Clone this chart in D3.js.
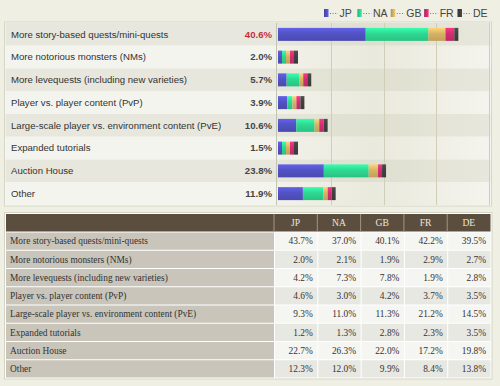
<!DOCTYPE html>
<html>
<head>
  <script src="https://d3js.org/d3.v7.min.js"></script>
  <style>
    body { margin: 0; background-color: #efefe4; }
    svg { display: block; }
    .lbl { font-family: "Liberation Sans", Arial, sans-serif; font-size: 9.6px; fill: #333; }
    .val { font-family: "Liberation Sans", Arial, sans-serif; font-size: 9.6px; font-weight: bold; fill: #444; }
    .leg { font-family: "Liberation Sans", Arial, sans-serif; font-size: 10.5px; fill: #444; }
    .tbl { font-family: "Liberation Serif", "Times New Roman", serif; font-size: 9.4px; fill: #333; }
    .hdr { font-family: "Liberation Serif", "Times New Roman", serif; font-size: 9.6px; fill: #eee6d6; }
    .grid { stroke: #cfcfb8; stroke-width: 1px; }
  </style>
</head>
<body>
<svg width="500" height="386"></svg>
<script>
var categories = [
  "More story-based quests/mini-quests",
  "More notorious monsters (NMs)",
  "More levequests (including new varieties)",
  "Player vs. player content (PvP)",
  "Large-scale player vs. environment content (PvE)",
  "Expanded tutorials",
  "Auction House",
  "Other"
];
var regions = ["JP", "NA", "GB", "FR", "DE"];
var overall = [40.6, 2.0, 5.7, 3.9, 10.6, 1.5, 23.8, 11.9];
var jp = [43.7, 2.0, 4.2, 4.6, 9.3, 1.2, 22.7, 12.3];
var na = [37.0, 2.1, 7.3, 3.0, 11.0, 1.3, 26.3, 12.0];
var gb = [40.1, 1.9, 7.8, 4.2, 11.3, 2.8, 22.0, 9.9];
var fr = [42.2, 2.9, 1.9, 3.7, 21.2, 2.3, 17.2, 8.4];
var de = [39.5, 2.7, 2.8, 3.5, 14.5, 3.5, 19.8, 13.8];
// share of respondents per region
var regionShare = [0.45, 0.38, 0.095, 0.047, 0.023];
var colors = ["#5252c4", "#2ed892", "#d6b264", "#d22e72", "#404040"];

var byRegion = [jp, na, gb, fr, de];

var svg = d3.select("svg");
var defs = svg.append("defs");

colors.forEach(function(c, i) {
  var g = defs.append("linearGradient").attr("id", "bg" + i)
      .attr("x1", 0).attr("y1", 0).attr("x2", 0).attr("y2", 1);
  g.append("stop").attr("offset", "0%").attr("stop-color", d3.color(c).brighter(0.5));
  g.append("stop").attr("offset", "45%").attr("stop-color", c);
  g.append("stop").attr("offset", "100%").attr("stop-color", d3.color(c).darker(0.3));
  var h = defs.append("linearGradient").attr("id", "lg" + i)
      .attr("x1", 0).attr("y1", 0).attr("x2", 1).attr("y2", 0);
  h.append("stop").attr("offset", "0%").attr("stop-color", d3.color(c).darker(0.6));
  h.append("stop").attr("offset", "100%").attr("stop-color", d3.color(c).brighter(0.4));
});
var shade = defs.append("linearGradient").attr("id", "shade")
    .attr("x1", 0).attr("y1", 0).attr("x2", 1).attr("y2", 0);
shade.append("stop").attr("offset", "0%").attr("stop-color", "#c8c8a8").attr("stop-opacity", 0.05);
shade.append("stop").attr("offset", "45%").attr("stop-color", "#c8c8a8").attr("stop-opacity", 0.25);
shade.append("stop").attr("offset", "100%").attr("stop-color", "#c8c8a8").attr("stop-opacity", 0.0);

// ---------- top chart ----------
var box = {left: 5.5, right: 490.5, top: 23, bottom: 205};
var plotLeft = 276.5;

var y = d3.scaleBand().domain(d3.range(categories.length))
    .range([box.top, box.bottom]);
var x = d3.scaleLinear().domain([0, 47.5]).range([278, 489]);

var chart = svg.append("g");
chart.append("rect")
    .attr("x", box.left - 1).attr("y", box.top - 1)
    .attr("width", box.right - box.left + 2).attr("height", box.bottom - box.top + 2)
    .attr("fill", "#fbfbf6").attr("stroke", "#d6d6c6");

chart.selectAll(".row").data(categories).enter().append("rect")
    .attr("x", box.left).attr("y", function(d, i) { return y(i); })
    .attr("width", box.right - box.left).attr("height", y.bandwidth())
    .attr("fill", function(d, i) { return i % 2 ? "#f4f4ee" : "#e7e7dd"; });

chart.append("rect")
    .attr("x", plotLeft).attr("y", box.top)
    .attr("width", box.right - plotLeft).attr("height", box.bottom - box.top)
    .attr("fill", "url(#shade)");

var gridVals = d3.range(1, 5).map(function(k) { return x.domain()[1] * k / 4; });
chart.selectAll(".grid").data(gridVals).enter().append("line")
    .attr("class", "grid")
    .attr("x1", function(d) { return Math.round(x(d)) + 0.5; })
    .attr("x2", function(d) { return Math.round(x(d)) + 0.5; })
    .attr("y1", box.top).attr("y2", box.bottom);

chart.append("line")
    .attr("x1", plotLeft).attr("x2", plotLeft)
    .attr("y1", box.top).attr("y2", box.bottom)
    .attr("stroke", "#c4c4b2");

chart.selectAll(".lbl").data(categories).enter().append("text")
    .attr("class", "lbl")
    .attr("x", 11).attr("y", function(d, i) { return y(i) + y.bandwidth() / 2; })
    .attr("dy", "0.35em")
    .text(function(d) { return d; });

chart.selectAll(".val").data(overall).enter().append("text")
    .attr("class", "val")
    .attr("x", 272).attr("y", function(d, i) { return y(i) + y.bandwidth() / 2; })
    .attr("dy", "0.35em")
    .attr("text-anchor", "end")
    .style("fill", function(d, i) { return i === 0 ? "#c4303c" : null; })
    .text(function(d) { return d.toFixed(1) + "%"; });

// stacked segments: each region's weighted contribution, scaled to the overall figure
var minW = 4;
categories.forEach(function(c, i) {
  var contrib = byRegion.map(function(arr, r) { return arr[i] * regionShare[r]; });
  var sum = d3.sum(contrib);
  var x0 = x(0);
  var barH = 13;
  var by = y(i) + (y.bandwidth() - barH) / 2;
  contrib.forEach(function(v, r) {
    var w = Math.max(minW, x(overall[i] * v / sum) - x(0));
    chart.append("rect")
        .attr("x", x0).attr("y", by)
        .attr("width", w).attr("height", barH)
        .attr("fill", "url(#bg" + r + ")");
    x0 += w;
  });
});

// legend
var legX = d3.scalePoint().domain(regions).range([324, 457.5]);
var leg = svg.append("g");
regions.forEach(function(r, i) {
  var lx = legX(r);
  leg.append("rect").attr("x", lx).attr("y", 9).attr("width", 4.5).attr("height", 8)
      .attr("fill", "url(#lg" + i + ")");
  leg.append("line").attr("x1", lx + 6).attr("x2", lx + 14).attr("y1", 13.5).attr("y2", 13.5)
      .attr("stroke", "#777").attr("stroke-dasharray", "1,1.6");
  leg.append("text").attr("class", "leg").attr("x", lx + 15.5).attr("y", 13).attr("dy", "0.35em")
      .text(r);
});

// ---------- table ----------
var tbl = {left: 6, right: 490.5, top: 214, header: 231.5, bottom: 377.5};
var labelRight = 274;
var col = d3.scaleBand().domain(regions).range([labelRight, tbl.right]);
var ty = d3.scaleBand().domain(d3.range(categories.length)).range([tbl.header, tbl.bottom]);

var t = svg.append("g");
t.append("rect")
    .attr("x", tbl.left - 1.5).attr("y", tbl.top - 1.5)
    .attr("width", tbl.right - tbl.left + 3).attr("height", tbl.bottom - tbl.top + 3)
    .attr("fill", "#ffffff").attr("stroke", "#d4d4c4");
t.append("rect")
    .attr("x", tbl.left).attr("y", tbl.top)
    .attr("width", tbl.right - tbl.left).attr("height", tbl.header - tbl.top)
    .attr("fill", "#5c4e3e");
regions.forEach(function(r) {
  t.append("line")
      .attr("x1", col(r)).attr("x2", col(r)).attr("y1", tbl.top).attr("y2", tbl.header)
      .attr("stroke", "#a09484");
  t.append("text").attr("class", "hdr")
      .attr("x", col(r) + col.bandwidth() / 2).attr("y", (tbl.top + tbl.header) / 2)
      .attr("dy", "0.35em").attr("text-anchor", "middle")
      .text(r);
});

categories.forEach(function(c, i) {
  t.append("rect")
      .attr("x", tbl.left).attr("y", ty(i) + 1)
      .attr("width", labelRight - tbl.left).attr("height", ty.bandwidth() - 1)
      .attr("fill", "#c9c5ba");
  t.append("text").attr("class", "tbl")
      .attr("x", 10).attr("y", ty(i) + ty.bandwidth() / 2 + 0.5).attr("dy", "0.35em")
      .text(c);
  regions.forEach(function(r, k) {
    t.append("rect")
        .attr("x", col(r) + 1).attr("y", ty(i) + 1)
        .attr("width", col.bandwidth() - 1).attr("height", ty.bandwidth() - 1)
        .attr("fill", i % 2 ? "#e8e8e3" : "#f5f5f1");
    t.append("text").attr("class", "tbl")
        .attr("x", col(r) + col.bandwidth() - 4.5).attr("y", ty(i) + ty.bandwidth() / 2 + 0.5)
        .attr("dy", "0.35em").attr("text-anchor", "end")
        .text(byRegion[k][i].toFixed(1) + "%");
  });
});
</script>
</body>
</html>
